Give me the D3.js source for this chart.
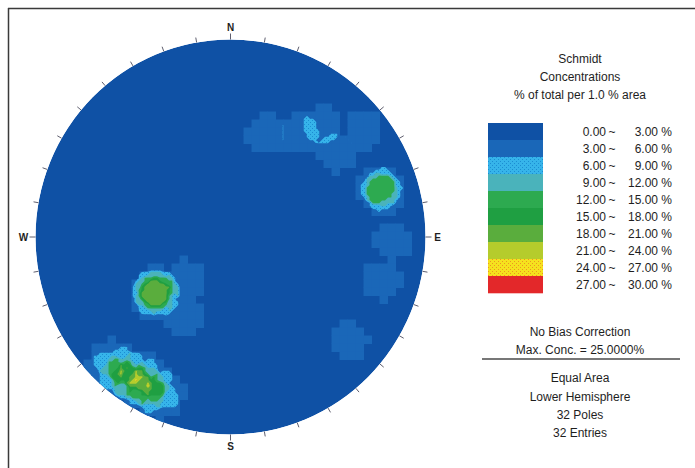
<!DOCTYPE html>
<html lang="en">
<head>
  <meta charset="UTF-8">
  <script src="https://d3js.org/d3.v7.min.js"></script>
  <title>Schmidt concentrations</title>
  <style>
    body { margin: 0; background: #fff; }
    text { font-family: "Liberation Sans", Arial, sans-serif; fill: #1e1e1e; }
  </style>
</head>
<body>
  <div id="chart"></div>
  <script>
    // poles: trend / plunge in degrees (lower hemisphere)
    const poleTrend = [
      224.8, 219.4, 214.9, 209.1, 203.1, 223.5, 218.9, 213.6, 208.6, 203.5, 215.3, 209.9, // SW set
      237.5, 233.9, 234.5, 230.0, 230.5, 237.4, 209.6, 227.0,                             // W set
      70.2, 72.0, 73.5, 74.5,                                                             // E set
      91.1, 105.8, 130.9,                                                                 // E scatter
      19.3, 34.1, 39.6, 51.5, 51.6                                                        // N set
    ];
    const polePlunge = [
      14.8, 16.6, 19.0, 19.4, 16.9, 6.4, 9.1, 9.7, 10.4, 10.4, 11.7, 14.1,
      49.5, 53.1, 47.4, 51.6, 48.4, 52.0, 51.0, 64.5,
      21.4, 18.5, 21.8, 19.0,
      18.5, 20.5, 20.8,
      44.0, 36.6, 27.3, 31.5, 13.8
    ];

    const levelLows = [0, 3, 6, 9, 12, 15, 18, 21, 24, 27];
    const levelHighs = [3, 6, 9, 12, 15, 18, 21, 24, 27, 30];
    const levelColors = ['#0f51a5', '#1a67b8', 'url(#dots69)', '#4ab3bb', '#2daa50',
                         '#1f9f42', '#5aad3d', '#b5cc2c', 'url(#dots2427)', '#e3282a'];

    const titleLines = ['Schmidt', 'Concentrations', '% of total per 1.0 % area'];
    const compass = [['N', 0], ['E', 90], ['S', 180], ['W', 270]];

    const width = 695, height = 468;
    const cx = 230.5, cy = 237, rx = 195, ry = 197.5;

    const x = d3.scaleLinear().domain([-1, 1]).range([cx - rx, cx + rx]);
    const y = d3.scaleLinear().domain([-1, 1]).range([cy + ry, cy - ry]);

    // equal area projection of every pole
    const rad = Math.PI / 180;
    const poles = poleTrend.map((t, i) => {
      const r = Math.SQRT2 * Math.sin((90 - polePlunge[i]) / 2 * rad);
      return [r * Math.sin(t * rad), r * Math.cos(t * rad)];
    });

    // counting circle of 1 % of the net area
    const countRadius = 0.1;
    const density = (u, v) => {
      let n = 0;
      poles.forEach(([pu, pv]) => {
        if ((u - pu) ** 2 + (v - pv) ** 2 < countRadius ** 2) n++;
      });
      return n / poles.length * 100;
    };

    const x0 = x(-1), y0 = y(1);
    const sample = step => {
      const nx = Math.ceil((x(1) - x0) / step);
      const ny = Math.ceil((y(-1) - y0) / step);
      const values = new Array(nx * ny);
      for (let j = 0; j < ny; j++) {
        for (let i = 0; i < nx; i++) {
          values[j * nx + i] = density(x.invert(x0 + (i + 0.5) * step), y.invert(y0 + (j + 0.5) * step));
        }
      }
      return { nx, ny, step, values };
    };
    const coarse = sample(8);   // blocky first level
    const fine = sample(3);     // contour levels
    const peak = sample(1);     // for the max value
    const maxConc = d3.max(peak.values);

    const svg = d3.select('#chart').append('svg')
      .attr('width', width)
      .attr('height', height);

    const defs = svg.append('defs');
    defs.append('clipPath').attr('id', 'net')
      .append('ellipse')
      .attr('cx', cx).attr('cy', cy).attr('rx', rx).attr('ry', ry);

    const dots = (id, base, dot) => {
      const p = defs.append('pattern').attr('id', id)
        .attr('width', 4).attr('height', 4)
        .attr('patternUnits', 'userSpaceOnUse');
      p.append('rect').attr('width', 4).attr('height', 4).attr('fill', base);
      p.append('rect').attr('x', 0).attr('y', 0).attr('width', 1).attr('height', 1).attr('fill', dot);
      p.append('rect').attr('x', 2).attr('y', 2).attr('width', 1).attr('height', 1).attr('fill', dot);
    };
    dots('dots69', '#36b4ea', '#1c8dd2');
    dots('dots2427', '#f5e21e', '#ef9520');

    // frame
    svg.append('line').attr('x1', 8).attr('y1', 8.5).attr('x2', width).attr('y2', 8.5)
      .attr('stroke', '#3a3a3a').attr('stroke-width', 1.5);
    svg.append('line').attr('x1', 8.5).attr('y1', 8).attr('x2', 8.5).attr('y2', height)
      .attr('stroke', '#3a3a3a').attr('stroke-width', 1.5);

    const plot = svg.append('g').attr('clip-path', 'url(#net)');

    plot.append('ellipse')
      .attr('cx', cx).attr('cy', cy).attr('rx', rx).attr('ry', ry)
      .attr('fill', levelColors[0]);

    // first level drawn cell by cell (blocky like the original)
    const blocks = [];
    coarse.values.forEach((v, k) => {
      if (v >= levelLows[1]) blocks.push([k % coarse.nx, Math.floor(k / coarse.nx)]);
    });
    plot.selectAll('rect.block')
      .data(blocks)
      .enter()
      .append('rect')
      .attr('class', 'block')
      .attr('x', d => x0 + d[0] * coarse.step)
      .attr('y', d => y0 + d[1] * coarse.step)
      .attr('width', coarse.step + 0.5)
      .attr('height', coarse.step + 0.5)
      .attr('fill', levelColors[1]);

    // higher levels as contours
    const contours = d3.contours()
      .size([fine.nx, fine.ny])
      .thresholds(levelLows.slice(2))(fine.values);
    const path = d3.geoPath(d3.geoIdentity().scale(fine.step).translate([x0, y0]));

    plot.selectAll('path.level')
      .data(contours)
      .enter()
      .append('path')
      .attr('class', 'level')
      .attr('d', path)
      .attr('fill', d => levelColors[levelLows.indexOf(d.value)]);

    // ticks every 10 degrees
    const tickAngles = d3.range(0, 360, 10);
    const at = (a, k) => [cx + (rx + k) * Math.sin(a * rad), cy - (ry + k) * Math.cos(a * rad)];
    svg.selectAll('line.tick')
      .data(tickAngles)
      .enter()
      .append('line')
      .attr('class', 'tick')
      .attr('x1', a => at(a, 0)[0])
      .attr('y1', a => at(a, 0)[1])
      .attr('x2', a => at(a, a % 90 === 0 ? 6 : 5)[0])
      .attr('y2', a => at(a, a % 90 === 0 ? 6 : 5)[1])
      .attr('stroke', '#5e5e6e')
      .attr('stroke-width', 1);

    svg.selectAll('text.compass')
      .data(compass)
      .enter()
      .append('text')
      .attr('class', 'compass')
      .attr('x', d => at(d[1], 12)[0])
      .attr('y', d => at(d[1], 12)[1])
      .attr('dy', '0.35em')
      .attr('text-anchor', 'middle')
      .attr('font-size', 10)
      .attr('font-weight', 'bold')
      .text(d => d[0]);

    // legend
    const legendX = 580;
    svg.selectAll('text.title')
      .data(titleLines)
      .enter()
      .append('text')
      .attr('class', 'title')
      .attr('x', legendX)
      .attr('y', (d, i) => [59, 77, 95][i])
      .attr('dy', '0.35em')
      .attr('text-anchor', 'middle')
      .attr('font-size', 12)
      .text(d => d);

    const band = d3.scaleBand().domain(d3.range(levelLows.length)).range([123, 293]);
    const rows = svg.selectAll('g.row')
      .data(levelLows)
      .enter()
      .append('g')
      .attr('class', 'row')
      .attr('transform', (d, i) => `translate(0,${band(i)})`);
    rows.append('rect')
      .attr('x', 488)
      .attr('width', 55)
      .attr('height', band.bandwidth() + 0.3)
      .attr('fill', (d, i) => levelColors[i]);
    const mid = band.bandwidth() / 2;
    rows.append('text')
      .attr('x', 606).attr('y', mid).attr('dy', '0.35em')
      .attr('text-anchor', 'end').attr('font-size', 12)
      .text(d => d.toFixed(2));
    rows.append('text')
      .attr('x', 612).attr('y', mid).attr('dy', '0.35em')
      .attr('text-anchor', 'middle').attr('font-size', 12)
      .text('~');
    rows.append('text')
      .attr('x', 672).attr('y', mid).attr('dy', '0.35em')
      .attr('text-anchor', 'end').attr('font-size', 12)
      .text((d, i) => levelHighs[i].toFixed(2) + ' %');

    const infoTop = ['No Bias Correction', `Max. Conc. = ${maxConc.toFixed(4)}%`];
    const infoBottom = ['Equal Area', 'Lower Hemisphere', `${poles.length} Poles`, `${poles.length} Entries`];

    svg.selectAll('text.info1')
      .data(infoTop)
      .enter()
      .append('text')
      .attr('class', 'info1')
      .attr('x', legendX)
      .attr('y', (d, i) => 332 + i * 18)
      .attr('dy', '0.35em')
      .attr('text-anchor', 'middle')
      .attr('font-size', 12)
      .text(d => d);

    svg.append('line')
      .attr('x1', 482).attr('x2', 680)
      .attr('y1', 359).attr('y2', 359)
      .attr('stroke', '#4a4a4a').attr('stroke-width', 1.5);

    svg.selectAll('text.info2')
      .data(infoBottom)
      .enter()
      .append('text')
      .attr('class', 'info2')
      .attr('x', legendX)
      .attr('y', (d, i) => 378 + i * 18.4)
      .attr('dy', '0.35em')
      .attr('text-anchor', 'middle')
      .attr('font-size', 12)
      .text(d => d);
  </script>
</body>
</html>
